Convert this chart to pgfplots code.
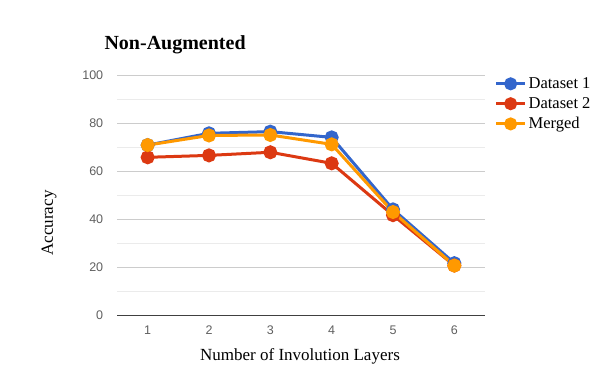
\documentclass[border=0pt]{standalone}
\usepackage{fontspec}
\setmainfont{Liberation Serif}
\newfontfamily\arial{Liberation Sans}
\usepackage{pgfplots}
\pgfplotsset{compat=1.18}
\definecolor{DsOne}{HTML}{3366CC}
\definecolor{DsTwo}{HTML}{DC3912}
\definecolor{Merged}{HTML}{FF9900}
\definecolor{TickGray}{HTML}{5F5F5F}

\begin{document}
\begin{tikzpicture}
  \useasboundingbox (0,0) rectangle (600pt,390pt);
  \begin{axis}[
      at={(117pt,75pt)}, anchor=south west,
      scale only axis,
      width=368pt, height=240pt,
      xmin=0.5, xmax=6.5,
      ymin=0, ymax=100,
      xtick={1,2,3,4,5,6},
      ytick={0,20,40,60,80,100},
      minor y tick num=1,
      axis x line=bottom, axis y line=left,
      axis line style={-},
      y axis line style={draw=none},
      x axis line style={color=black!75, line width=0.8pt},
      major tick length=0pt, minor tick length=0pt,
      ymajorgrids, yminorgrids,
      major grid style={color=black!20, line width=0.8pt},
      minor grid style={color=black!8, line width=0.8pt},
      tick label style={font=\arial\fontsize{12.5}{14}\selectfont, color=TickGray},
      /pgf/number format/assume math mode=true,
      yticklabel style={xshift=-9pt},
      xticklabel style={yshift=-6pt},
      line width=3pt,
      mark size=5.5pt,
      legend image code/.code={
        \draw[line width=3pt] (0pt,0pt) -- (29pt,0pt);
        \fill (14.5pt,0pt) circle (5pt);
      },
      legend style={at={(1.014,1.012)}, anchor=north west, draw=none, fill=none,
        font=\fontsize{16.5}{19}\selectfont, row sep=3.5pt,
        /tikz/every even column/.append style={column sep=0pt}},
      legend cell align=left,
      clip=false,
    ]
    \addplot[color=DsOne, mark=*] coordinates {
      (1,70.8) (2,75.7) (3,76.4) (4,74.0) (5,44.0) (6,21.6)
    };
    \addlegendentry{Dataset 1}
    \addplot[color=DsTwo, mark=*] coordinates {
      (1,65.7) (2,66.5) (3,67.8) (4,63.2) (5,41.6) (6,20.6)
    };
    \addlegendentry{Dataset 2}
    \addplot[color=Merged, mark=*] coordinates {
      (1,70.8) (2,74.8) (3,75.0) (4,71.1) (5,42.9) (6,20.6)
    };
    \addlegendentry{Merged}
  \end{axis}
  \node[anchor=west, font=\bfseries\fontsize{20}{23}\selectfont] at (101pt,345pt) {Non-Augmented};
  \node[rotate=90, font=\fontsize{17}{20}\selectfont] at (49pt,167pt) {Accuracy};
  \node[font=\fontsize{17}{20}\selectfont] at (300pt,34pt) {Number of Involution Layers};
\end{tikzpicture}
\end{document}
